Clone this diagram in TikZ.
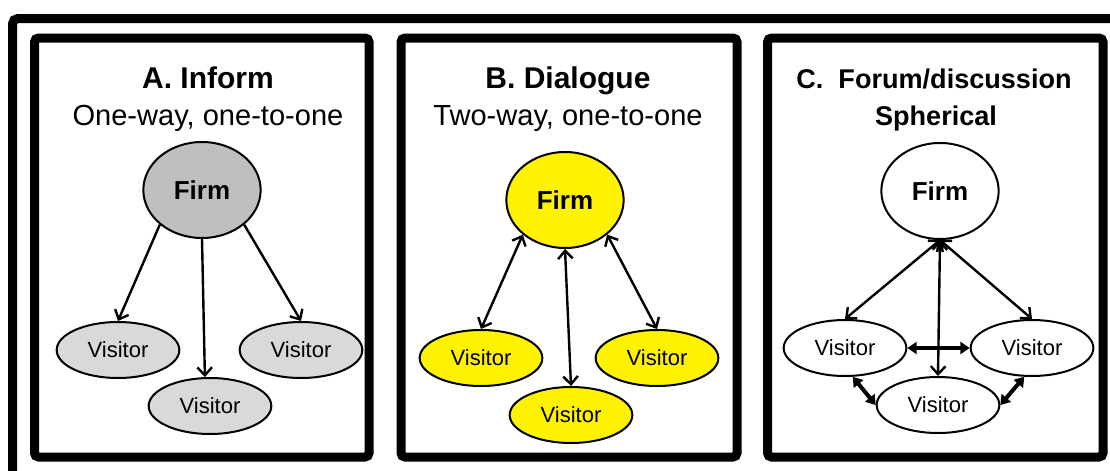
\documentclass[tikz,border=0pt]{standalone}
\usepackage{fontspec}
\setmainfont{Liberation Sans}
\usepackage{tikz}
\usetikzlibrary{shapes.geometric,arrows.meta}
\tikzset{
	panel/.style={line width=6.75pt, rounded corners=3pt},
	firm/.style={draw, ellipse, line width=1.5pt, minimum width=88pt, minimum height=72pt, inner sep=0pt, font=\fontsize{19.5}{22}\selectfont\bfseries},
	visitor/.style={draw, ellipse, line width=1.5pt, minimum width=92pt, minimum height=42pt, inner sep=0pt, font=\fontsize{16.5}{19}\selectfont},
	headline/.style={anchor=base, font=\fontsize{22.5}{25}\selectfont\bfseries},
	subline/.style={anchor=base, font=\fontsize{21.8}{24}\selectfont},
	oneway/.style={line width=1.8pt, -{Straight Barb[length=6pt,width=11pt]}},
	twoway/.style={line width=1.8pt, {Straight Barb[length=6pt,width=11pt]}-{Straight Barb[length=6pt,width=11pt]}},
	peer/.style={line width=3pt, {Triangle[length=7pt,width=9pt]}-{Triangle[length=7pt,width=9pt]}}
}
\begin{document}
\begin{tikzpicture}[x=0.75pt, y=-0.75pt]
		%%%%% START %%%%%
		\useasboundingbox (0, 0) rectangle (1110, 471);
		\clip (0, 0) rectangle (1110, 471);
		
		\draw[panel, rounded corners=4pt] (12.5, 18.5) rectangle (1140, 500);
		
		\draw[panel] (34.5, 38) rectangle (369, 457);
		\draw[panel] (401, 38) rectangle (737, 457);
		\draw[panel] (767.5, 38) rectangle (1103, 457);
		
		% A. Inform
		\node[headline] (titA) at (208, 88) {A. Inform};
		\node[subline] (subA) at (208, 125) {One-way, one-to-one};
		\node[firm, fill=black!25] (firmA) at (202, 190) {Firm};
		\node[visitor, fill=black!15] (visA1) at (118, 350) {Visitor};
		\node[visitor, fill=black!15] (visA2) at (210, 406) {Visitor};
		\node[visitor, fill=black!15] (visA3) at (301, 350) {Visitor};
		\draw[oneway] (firmA.south west) -- (visA1.north);
		\draw[oneway] (firmA.south) -- (visA2.100);
		\draw[oneway] (firmA.south east) -- (visA3.north);
		
		% B. Dialogue
		\node[headline] (titB) at (568, 88) {B. Dialogue};
		\node[subline] (subB) at (568, 125) {Two-way, one-to-one};
		\node[firm, fill=yellow] (firmB) at (565, 200) {Firm};
		\node[visitor, fill=yellow] (visB1) at (481, 358) {Visitor};
		\node[visitor, fill=yellow] (visB2) at (571, 415) {Visitor};
		\node[visitor, fill=yellow] (visB3) at (657, 358) {Visitor};
		\draw[twoway] (firmB.south west) -- (visB1.north);
		\draw[twoway] (firmB.south) -- (visB2.north);
		\draw[twoway] (firmB.south east) -- (visB3.north);
		
		% C. Forum/discussion
		\node[headline, font=\fontsize{20.3}{23}\selectfont\bfseries] (titC) at (934, 88) {C.~~Forum/discussion};
		\node[headline, font=\fontsize{20.3}{23}\selectfont\bfseries] (subC) at (936, 125) {Spherical};
		\node[firm, fill=white] (firmC) at (940, 191) {Firm};
		\node[visitor, fill=white] (visC1) at (845, 348) {Visitor};
		\node[visitor, fill=white] (visC2) at (938, 405) {Visitor};
		\node[visitor, fill=white] (visC3) at (1032, 348) {Visitor};
		\draw[twoway] (firmC.south) -- (visC1.north);
		\draw[twoway] (firmC.south) -- (visC2.north);
		\draw[twoway] (firmC.south) -- (visC3.north);
		\draw[peer] (visC1.east) -- (visC3.west);
		\draw[peer] (visC1.-75) -- (visC2.west);
		\draw[peer] (visC3.-105) -- (visC2.east);
		
		%%%%% END %%%%%
	\end{tikzpicture}
\end{document}
